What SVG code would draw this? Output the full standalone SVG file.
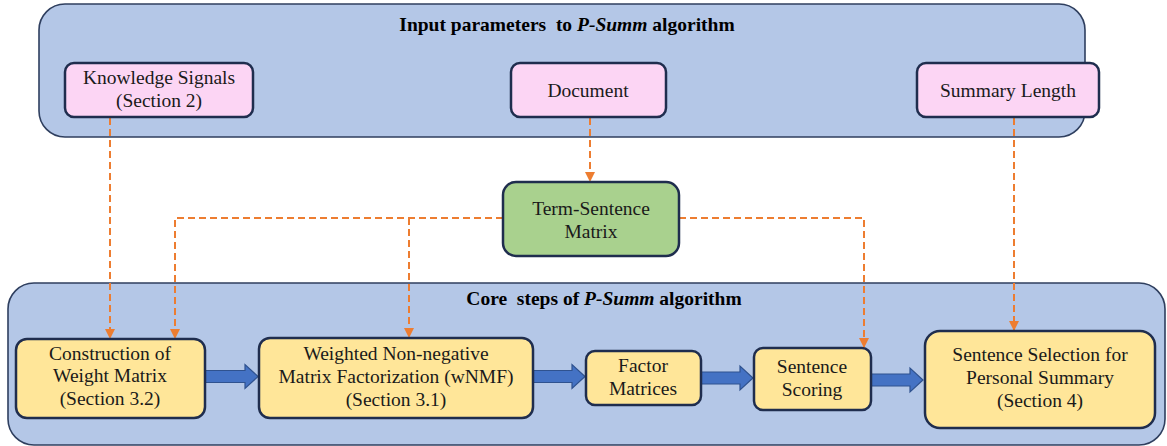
<svg xmlns="http://www.w3.org/2000/svg" width="1167" height="446" viewBox="0 0 1167 446">
<defs>
<style>
.container{fill:#B4C7E7;stroke:#2F3F5F;stroke-width:1.6}
.box{stroke:#1F2D4E;stroke-width:2.5}
.pink{fill:#FCD5F4}
.green{fill:#A9D18E}
.yellow{fill:#FFE699}
.t{font-size:19.5px;fill:#1a1a1a;text-anchor:middle}
.title{font-weight:bold;fill:#000}
.dash{fill:none;stroke:#ED7D31;stroke-width:2;stroke-dasharray:7 4}
.barrow{fill:#4472C4;stroke:#2F528F;stroke-width:1.2}
</style>
<marker id="oh" viewBox="0 0 10 10" refX="9" refY="5" markerWidth="5" markerHeight="5" orient="auto" markerUnits="strokeWidth">
<path d="M0,0 L10,5 L0,10 z" fill="#ED7D31"/>
</marker>
</defs>
<rect width="1167" height="446" fill="#FFFFFF"/>

<g font-family="'Liberation Serif', 'Times New Roman', 'DejaVu Serif', serif">
<g id="input-container">
<rect class="container" x="39" y="4" width="1046" height="133" rx="26"/>
<text class="t title" x="567" y="31" xml:space="preserve">Input parameters  to <tspan font-style="italic">P-Summ</tspan> algorithm</text>
</g>

<g id="core-container">
<rect class="container" x="8" y="283" width="1157" height="162" rx="26"/>
<text class="t title" x="604" y="305" xml:space="preserve">Core  steps of <tspan font-style="italic">P-Summ</tspan> algorithm</text>
</g>

<g id="connectors">
<path class="dash" d="M110,118 V338" marker-end="url(#oh)"/>
<path class="dash" d="M590,118 V181" marker-end="url(#oh)"/>
<path class="dash" d="M503,218 H175 V338" marker-end="url(#oh)"/>
<path class="dash" d="M409,218 V337" marker-end="url(#oh)"/>
<path class="dash" d="M679,218 H864 V347" marker-end="url(#oh)"/>
<path class="dash" d="M1014,118 V330" marker-end="url(#oh)"/>
</g>

<g id="block-arrows">
<path class="barrow" d="M205,370.5 H245 V364.5 L258,376.5 L245,388.5 V382.5 H205 Z"/>
<path class="barrow" d="M533,370.5 H572 V364.5 L585,376.5 L572,388.5 V382.5 H533 Z"/>
<path class="barrow" d="M701,372 H740 V366 L753,378 L740,390 V384 H701 Z"/>
<path class="barrow" d="M871,374 H910 V368 L923,380 L910,392 V386 H871 Z"/>
</g>

<g id="knowledge-signals">
<rect class="box pink" x="65" y="63" width="188" height="54" rx="9"/>
<text class="t" x="159" y="84">Knowledge Signals</text>
<text class="t" x="159" y="107">(Section 2)</text>
</g>

<g id="document">
<rect class="box pink" x="511" y="63" width="155" height="54" rx="9"/>
<text class="t" x="588" y="97">Document</text>
</g>

<g id="summary-length">
<rect class="box pink" x="917" y="63" width="182" height="54" rx="9"/>
<text class="t" x="1008" y="97">Summary Length</text>
</g>

<g id="term-sentence-matrix">
<rect class="box green" x="503" y="182" width="176" height="74" rx="13"/>
<text class="t" x="591" y="215">Term-Sentence</text>
<text class="t" x="591" y="238">Matrix</text>
</g>

<g id="construction-weight-matrix">
<rect class="box yellow" x="16" y="339" width="189" height="79" rx="11"/>
<text class="t" x="110" y="360">Construction of</text>
<text class="t" x="110" y="382">Weight Matrix</text>
<text class="t" x="110" y="405">(Section 3.2)</text>
</g>

<g id="wnmf">
<rect class="box yellow" x="259" y="338" width="274" height="80" rx="11"/>
<text class="t" x="396" y="360">Weighted Non-negative</text>
<text class="t" x="396" y="383">Matrix Factorization (wNMF)</text>
<text class="t" x="396" y="406">(Section 3.1)</text>
</g>

<g id="factor-matrices">
<rect class="box yellow" x="586" y="351" width="115" height="54" rx="9"/>
<text class="t" x="643" y="372">Factor</text>
<text class="t" x="643" y="395">Matrices</text>
</g>

<g id="sentence-scoring">
<rect class="box yellow" x="754" y="348" width="117" height="62" rx="9"/>
<text class="t" x="812" y="373">Sentence</text>
<text class="t" x="812" y="396">Scoring</text>
</g>

<g id="sentence-selection">
<rect class="box yellow" x="925" y="331" width="230" height="97" rx="15"/>
<text class="t" x="1040" y="361">Sentence Selection for</text>
<text class="t" x="1040" y="384">Personal Summary</text>
<text class="t" x="1040" y="407">(Section 4)</text>
</g>
</g>
</svg>
